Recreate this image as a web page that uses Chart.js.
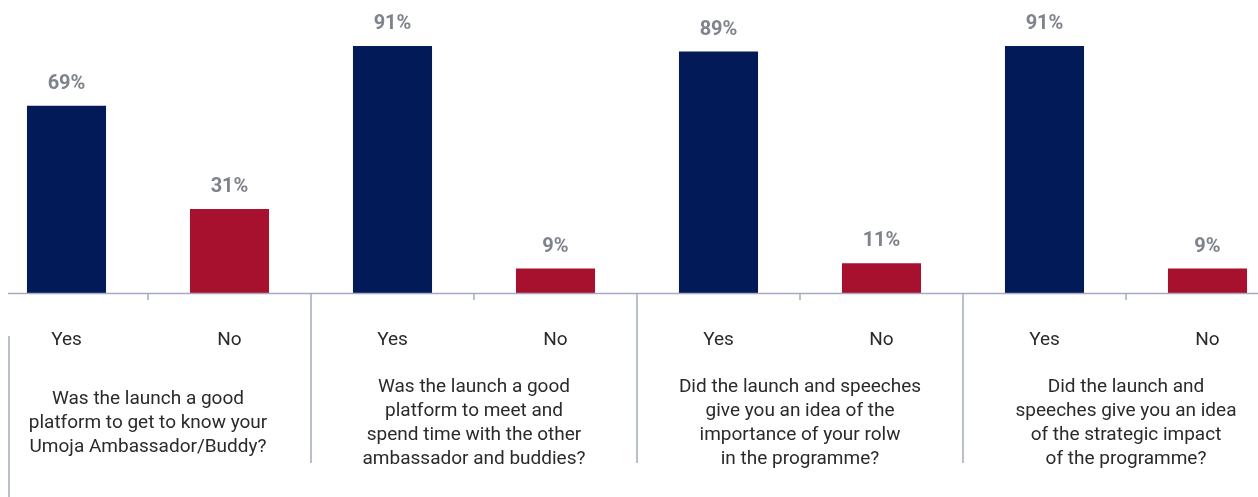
<!DOCTYPE html>
<html>
<head>
<meta charset="utf-8">
<script src="https://cdn.jsdelivr.net/npm/chart.js@4/dist/chart.umd.min.js"></script>
<style>
  html, body { margin: 0; padding: 0; background: #fff; overflow: hidden; }
  #wrap { position: absolute; left: -15px; top: 0; width: 1304px; height: 497px; }
</style>
</head>
<body>
<div id="wrap"><canvas id="survey_chart"></canvas></div>
<script>
// answer under each bar
const answers = ['Yes', 'No', 'Yes', 'No', 'Yes', 'No', 'Yes', 'No'];
// one question per Yes/No pair
const questions = [
    ['Was the launch a good', 'platform to get to know your', 'Umoja Ambassador/Buddy?'],
    ['Was the launch a good', 'platform to meet and', 'spend time with the other', 'ambassador and buddies?'],
    ['Did the launch and speeches', 'give you an idea of the', 'importance of your rolw', 'in the programme?'],
    ['Did the launch and', 'speeches give you an idea', 'of the strategic impact', 'of the programme?']
];
// percentage of respondents
const shares = [69, 31, 91, 9, 89, 11, 91, 9];

const NAVY = '#021a58';
const RED = '#a8112e';
const LINE = '#a4aac0';

// axis line, dividers between questions and the value labels
var framePlugin = {
    id: 'frame',
    afterDraw: function (chart) {
        var ctx = chart.ctx;
        var area = chart.chartArea;
        var x = chart.scales.x;
        var base = area.bottom;
        ctx.save();
        ctx.strokeStyle = LINE;
        ctx.lineWidth = 1.5;
        ctx.beginPath();
        ctx.moveTo(area.left + 23, base + 0.5);
        ctx.lineTo(chart.width, base + 0.5);
        for (var i = 0; i < answers.length - 1; i++) {
            var mid = (x.getPixelForValue(i) + x.getPixelForValue(i + 1)) / 2;
            ctx.moveTo(mid, base);
            ctx.lineTo(mid, i % 2 ? base + 170 : base + 7);
        }
        ctx.moveTo(area.left + 24, base + 43);
        ctx.lineTo(area.left + 24, chart.height);
        ctx.stroke();

        ctx.fillStyle = '#7f838c';
        ctx.font = 'bold 20px Roboto';
        ctx.textAlign = 'center';
        ctx.textBaseline = 'alphabetic';
        chart.getDatasetMeta(0).data.forEach(function (bar, i) {
            ctx.fillText(shares[i] + '%', bar.x, bar.y - 17);
        });
        ctx.restore();
    }
};

var ctx = document.getElementById('survey_chart').getContext('2d');
let chart = new Chart(ctx, {
    type: 'bar',
    data: {
        labels: answers,
        datasets: [{
            data: shares,
            backgroundColor: answers.map(a => a === 'Yes' ? NAVY : RED),
            borderWidth: 0,
            categoryPercentage: 1,
            barPercentage: 0.485
        }]
    },
    options: {
        responsive: true,
        maintainAspectRatio: false,
        animation: false,
        layout: { padding: 0 },
        plugins: {
            legend: { display: false },
            tooltip: { enabled: false }
        },
        scales: {
            y: {
                display: false,
                min: 0,
                max: 108
            },
            x: {
                weight: 0,
                offset: true,
                grid: { display: false, drawTicks: false },
                border: { display: false },
                ticks: {
                    color: '#2a2a2a',
                    font: { family: 'Roboto', size: 19 },
                    padding: 36,
                    maxRotation: 0,
                    autoSkip: false
                },
                afterFit: function (scale) { scale.height = 60; }
            },
            x2: {
                type: 'category',
                position: 'bottom',
                weight: 1,
                offset: true,
                labels: questions,
                grid: { display: false, drawTicks: false },
                border: { display: false },
                ticks: {
                    color: '#2a2a2a',
                    font: { family: 'Roboto', size: 19, lineHeight: 24 / 19 },
                    padding: 34,
                    crossAlign: 'center',
                    maxRotation: 0,
                    autoSkip: false
                },
                afterFit: function (scale) { scale.height = 144; }
            }
        }
    },
    plugins: [framePlugin]
});
</script>
</body>
</html>
